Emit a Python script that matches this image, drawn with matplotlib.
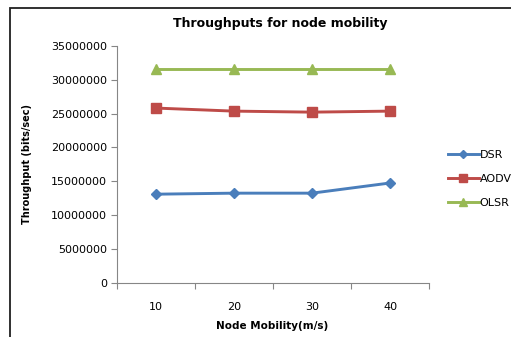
import matplotlib.pyplot as plt
from matplotlib.patches import Rectangle

speeds = ['10', '20', '30', '40']
dsr = [13100000, 13250000, 13250000, 14750000]
aodv = [25800000, 25350000, 25200000, 25350000]
olsr = [31550000, 31550000, 31550000, 31550000]
yticks = [0, 5000000, 10000000, 15000000, 20000000, 25000000, 30000000, 35000000]

fig = plt.figure(figsize=(5.11, 3.37), dpi=100)
ax = fig.add_axes([117/511, 1 - 283/337, 312/511, 237.3/337])

x = range(len(speeds))
ax.plot(x, dsr, color='#4A7EBB', lw=2.1, marker='D', ms=5.5, label='DSR')
ax.plot(x, aodv, color='#BE4B48', lw=2.1, marker='s', ms=7, label='AODV')
ax.plot(x, olsr, color='#98B954', lw=2.1, marker='^', ms=7.5, label='OLSR')

ax.set_xlim(-0.5, len(speeds) - 0.5)
ax.set_ylim(0, 35000000)
ax.set_yticks(yticks)
ax.set_yticklabels([str(v) for v in yticks])
ax.set_xticks([i - 0.5 for i in range(len(speeds) + 1)], minor=False)
ax.set_xticklabels([''] * (len(speeds) + 1))
ax.set_xticks(list(x), minor=True)
ax.set_xticklabels(speeds, minor=True)
ax.tick_params(axis='x', which='minor', length=0, pad=14, labelsize=8)
ax.tick_params(axis='x', which='major', length=4, color='#868686')
ax.tick_params(axis='y', length=4, color='#868686', labelsize=8, pad=3)

for side in ['top', 'right']:
    ax.spines[side].set_visible(False)
for side in ['left', 'bottom']:
    ax.spines[side].set_color('#868686')

fig.text(280/511, 1 - 23/337, 'Throughputs for node mobility', ha='center', va='center',
         fontsize=9, fontweight='bold')
fig.text(27/511, 1 - 164/337, 'Throughput (bits/sec)', ha='center', va='center',
         rotation=90, fontsize=7, fontweight='bold')
fig.text(272/511, 1 - 326/337, 'Node Mobility(m/s)', ha='center', va='center',
         fontsize=7.5, fontweight='bold')

ax.legend(loc='center left', bbox_to_anchor=(442/511, 1 - 179/337),
          bbox_transform=fig.transFigure, frameon=False, fontsize=8,
          handlelength=2.8, handletextpad=0.1, labelspacing=1.25, borderpad=0,
          markerscale=0.8)

# outer border of the chart area
fig.patches.append(Rectangle((9.5/511, -0.1), 1.2, 1 - 8.5/337 + 0.1, transform=fig.transFigure,
                             fill=False, edgecolor='#202020', lw=1.3))

fig.savefig('out.png', dpi=100)
